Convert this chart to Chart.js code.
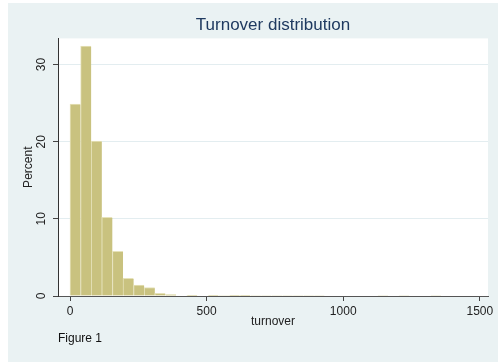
<!DOCTYPE html>
<html>
<head>
<meta charset="utf-8">
<script src="https://cdn.jsdelivr.net/npm/chart.js@4/dist/chart.umd.min.js"></script>
<style>
  html, body { margin: 0; padding: 0; background: #fff; }
  #wrap { position: absolute; left: 8px; top: 3px; width: 490px; height: 359px; background: #eaf2f3; }
</style>
</head>
<body>
<div id="wrap"><canvas id="c" width="490" height="359"></canvas></div>
<script>
// histogram bins (centre of each bin, width ~38.8)
const binCenters = [19.4, 58.2, 97, 135.8, 174.6, 213.4, 252.2, 291, 329.8, 368.6,
    407.4, 446.2, 485, 523.8, 562.6, 601.4, 640.2, 679, 717.8, 756.6,
    795.4, 834.2, 873, 911.8, 950.6, 989.4, 1028.2, 1067, 1105.8, 1144.6,
    1183.4, 1222.2, 1261, 1299.8, 1338.6];
const percents = [24.9, 32.4, 20.1, 10.2, 5.8, 2.3, 1.4, 1.1, 0.35, 0.2,
    0.05, 0.1, 0.05, 0.1, 0.03, 0.1, 0.1, 0.03, 0.03, 0.03,
    0.03, 0.03, 0.03, 0.03, 0, 0.06, 0, 0, 0, 0.03,
    0, 0.03, 0, 0, 0.03];
const xTicks = [0, 500, 1000, 1500];
const yTicks = [0, 10, 20, 30];

const FONT = 'Liberation Sans, Arial, sans-serif';
Chart.defaults.font.family = FONT;

// white plot region like Stata
const plotBg = {
    id: 'plotBg',
    beforeDraw(chart) {
        const { ctx, chartArea: a } = chart;
        ctx.save();
        ctx.fillStyle = '#ffffff';
        ctx.fillRect(a.left, a.top, a.right - a.left, a.bottom - a.top);
        ctx.restore();
    }
};

new Chart(document.getElementById('c'), {
    type: 'bar',
    data: {
        datasets: [{
            label: 'Percent',
            data: binCenters.map((x, i) => ({ x: x, y: percents[i] })),
            backgroundColor: '#c9c27f',
            borderColor: '#e6e2ba',
            borderWidth: { left: 1, top: 1, right: 0, bottom: 0 },
            categoryPercentage: 1,
            barPercentage: 1
        }]
    },
    options: {
        responsive: false,
        animation: false,
        layout: { padding: { top: 0, right: 10, bottom: 16.6, left: 0 } },
        plugins: {
            legend: { display: false },
            tooltip: { enabled: false },
            title: {
                display: true,
                text: 'Turnover distribution',
                fullSize: false,
                color: '#1f3a60',
                font: { size: 17, weight: 'normal' },
                padding: { top: 12, bottom: 3 }
            },
            subtitle: {
                display: true,
                text: 'Figure 1',
                position: 'bottom',
                align: 'start',
                fullSize: false,
                color: '#111',
                font: { size: 12 },
                padding: { top: 2, bottom: 0 }
            }
        },
        scales: {
            x: {
                type: 'linear',
                min: -44,
                max: 1530,
                offset: false,
                afterBuildTicks: (s) => { s.ticks = xTicks.map(v => ({ value: v })); },
                afterFit: (s) => { s.height = 33; },
                grid: { drawOnChartArea: false, tickLength: 5, tickColor: '#444', offset: false },
                border: { color: '#555' },
                ticks: { color: '#222', font: { size: 12 }, padding: 3, maxRotation: 0, callback: (v) => String(v) },
                title: { display: true, text: 'turnover', color: '#222', font: { size: 12 }, padding: { top: 0, bottom: 0 } }
            },
            y: {
                min: 0,
                max: 33.4,
                afterBuildTicks: (s) => { s.ticks = yTicks.map(v => ({ value: v })); },
                afterFit: (s) => { s.width = 50; },
                grid: { color: '#e3edf0', tickColor: '#444', tickLength: 5 },
                border: { color: '#333' },
                ticks: { color: '#222', font: { size: 12 }, minRotation: 90, maxRotation: 90, crossAlign: 'center', padding: 5, callback: (v) => String(v) },
                title: { display: true, text: 'Percent', color: '#222', font: { size: 12 }, padding: { top: 13, bottom: 0 } }
            }
        }
    },
    plugins: [plotBg]
});
</script>
</body>
</html>
